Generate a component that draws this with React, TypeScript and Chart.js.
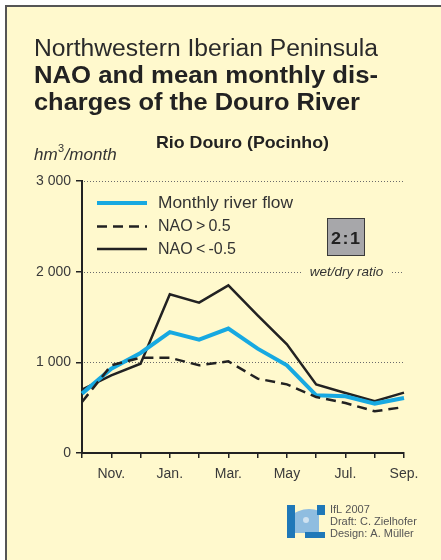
import React, { useEffect, useRef } from "react";
import { Chart, registerables } from "chart.js";

Chart.register(...registerables);

const months = ["Oct.", "Nov.", "Dec.", "Jan.", "Feb.", "Mar.", "Apr.", "May", "Jun.", "Jul.", "Aug.", "Sep."];
const shownMonths = ["Nov.", "Jan.", "Mar.", "May", "Jul.", "Sep."];
const monthlyFlow = [655, 930, 1103, 1334, 1250, 1372, 1151, 967, 636, 625, 545, 606];
const naoPositive = [563, 967, 1051, 1051, 967, 1011, 820, 757, 617, 551, 460, 507];
const naoNegative = [699, 857, 985, 1750, 1658, 1849, 1518, 1198, 757, 662, 570, 666];
const yTickValues = [0, 1000, 2000, 3000];
const seriesNames = ["Monthly river flow", "NAO\u2009>\u20090.5", "NAO\u2009<\u2009-0.5"];
const wetDryRatio = "2:1";

const FONT = '"Liberation Sans", Arial, Helvetica, sans-serif';
const BLUE = "#17a9e1";
const INK = "#222222";

function fitText(ctx: CanvasRenderingContext2D, text: string, x: number, y: number, w: number) {
  const m = ctx.measureText(text).width;
  const s = w / m;
  ctx.save();
  ctx.translate(x, y);
  ctx.scale(s, 1);
  ctx.textAlign = "left";
  ctx.fillText(text, 0, 0);
  ctx.restore();
}

const decorPlugin = {
  id: "decor",
  beforeDraw(chart: any) {
    const ctx: CanvasRenderingContext2D = chart.ctx;
    const W = chart.width;
    const H = chart.height;
    ctx.save();
    ctx.fillStyle = "#ffffff";
    ctx.fillRect(0, 0, W, H);
    ctx.fillStyle = "#fff9cd";
    ctx.fillRect(7, 7, W - 7, H - 7);
    ctx.strokeStyle = "#555555";
    ctx.lineWidth = 2;
    ctx.beginPath();
    ctx.moveTo(6, H);
    ctx.lineTo(6, 6);
    ctx.lineTo(W, 6);
    ctx.stroke();

    // titles
    ctx.textBaseline = "alphabetic";
    ctx.fillStyle = "#2a2a2a";
    ctx.font = `23.5px ${FONT}`;
    fitText(ctx, "Northwestern Iberian Peninsula", 34, 56, 344);
    ctx.fillStyle = INK;
    ctx.font = `bold 23px ${FONT}`;
    fitText(ctx, "NAO and mean monthly dis-", 34, 83, 344);
    fitText(ctx, "charges of the Douro River", 34, 110, 326);
    ctx.font = `bold 17px ${FONT}`;
    fitText(ctx, "Rio Douro (Pocinho)", 156, 148, 173);

    // unit label
    ctx.fillStyle = "#333333";
    ctx.font = `italic 17px ${FONT}`;
    ctx.textAlign = "left";
    ctx.fillText("hm", 34, 160);
    const hmW = ctx.measureText("hm").width;
    ctx.font = `11px ${FONT}`;
    ctx.fillText("3", 34 + hmW + 0.5, 152);
    ctx.font = `italic 17px ${FONT}`;
    ctx.fillText("/month", 34 + hmW + 7, 160);

    // dotted grid lines
    const ys = chart.scales.y;
    const area = chart.chartArea;
    ctx.strokeStyle = "#6b6b6b";
    ctx.lineWidth = 1;
    ctx.setLineDash([1, 2]);
    for (const v of yTickValues) {
      if (v === 0) continue;
      const y = Math.round(ys.getPixelForValue(v)) + 0.5;
      ctx.beginPath();
      if (v === 2000) {
        ctx.moveTo(area.left + 2, y);
        ctx.lineTo(302, y);
        ctx.moveTo(392, y);
        ctx.lineTo(area.right, y);
      } else {
        ctx.moveTo(area.left + 2, y);
        ctx.lineTo(area.right, y);
      }
      ctx.stroke();
    }
    ctx.setLineDash([]);
    const y2000 = ys.getPixelForValue(2000);
    ctx.fillStyle = "#333333";
    ctx.font = `italic 13.5px ${FONT}`;
    ctx.textAlign = "center";
    ctx.textBaseline = "middle";
    ctx.fillText("wet/dry ratio", 346.5, y2000 + 1);

    // ratio box
    ctx.fillStyle = "#a7a7aa";
    ctx.fillRect(327, 218, 38, 38);
    ctx.strokeStyle = "#3a3a3a";
    ctx.lineWidth = 1;
    ctx.strokeRect(327.5, 218.5, 37, 37);
    ctx.fillStyle = INK;
    ctx.font = `bold 17px ${FONT}`;
    ctx.textBaseline = "alphabetic";
    ctx.textAlign = "left";
    fitText(ctx, wetDryRatio.split("").join("\u200a"), 331, 243.5, 29);

    // legend
    ctx.lineCap = "butt";
    ctx.strokeStyle = BLUE;
    ctx.lineWidth = 4;
    ctx.beginPath();
    ctx.moveTo(97, 203);
    ctx.lineTo(147, 203);
    ctx.stroke();
    ctx.strokeStyle = INK;
    ctx.lineWidth = 2.5;
    ctx.setLineDash([10, 6]);
    ctx.beginPath();
    ctx.moveTo(97, 226.5);
    ctx.lineTo(147, 226.5);
    ctx.stroke();
    ctx.setLineDash([]);
    ctx.beginPath();
    ctx.moveTo(97, 249);
    ctx.lineTo(147, 249);
    ctx.stroke();
    ctx.fillStyle = "#333333";
    ctx.font = `16px ${FONT}`;
    ctx.textBaseline = "middle";
    fitText(ctx, seriesNames[0], 158, 204, 135);
    ctx.fillText(seriesNames[1], 158, 227);
    ctx.fillText(seriesNames[2], 158, 250);

    // logo
    ctx.save();
    ctx.beginPath();
    ctx.rect(295, 506, 24, 27);
    ctx.clip();
    ctx.fillStyle = "#8fbde0";
    ctx.beginPath();
    ctx.arc(309, 537, 28, 0, Math.PI * 2);
    ctx.fill();
    ctx.fillStyle = "#cfe2f0";
    ctx.beginPath();
    ctx.arc(306, 520, 3, 0, Math.PI * 2);
    ctx.fill();
    ctx.restore();
    ctx.fillStyle = "#1f78b8";
    ctx.fillRect(287, 505, 8, 33);
    ctx.fillRect(317, 505, 8, 10);
    ctx.fillRect(305, 532, 20, 6);

    ctx.fillStyle = "#555555";
    ctx.font = `11px ${FONT}`;
    ctx.textAlign = "left";
    ctx.textBaseline = "alphabetic";
    ctx.fillText("IfL 2007", 330, 513);
    ctx.fillText("Draft: C. Zielhofer", 330, 525);
    ctx.fillText("Design: A. Müller", 330, 537);
    ctx.restore();
  },
};

export default function App() {
  const ref = useRef<HTMLCanvasElement | null>(null);

  useEffect(() => {
    if (!ref.current) return;
    const chart = new Chart(ref.current, {
      type: "line",
      data: {
        labels: months,
        datasets: [
          {
            label: seriesNames[1],
            data: naoPositive,
            borderColor: INK,
            borderWidth: 2.5,
            borderDash: [10, 6],
            pointRadius: 0,
            tension: 0,
            fill: false,
          },
          {
            label: seriesNames[0],
            data: monthlyFlow,
            borderColor: BLUE,
            borderWidth: 4,
            pointRadius: 0,
            tension: 0,
            fill: false,
          },
          {
            label: seriesNames[2],
            data: naoNegative,
            borderColor: INK,
            borderWidth: 2.5,
            pointRadius: 0,
            tension: 0,
            fill: false,
            borderJoinStyle: "miter",
          },
        ],
      },
      options: {
        responsive: false,
        animation: false,
        events: [],
        layout: { padding: { left: 0, right: 37, top: 181, bottom: 67 } },
        plugins: {
          legend: { display: false },
          title: { display: false },
          tooltip: { enabled: false },
        },
        scales: {
          x: {
            type: "category",
            offset: false,
            grid: {
              drawOnChartArea: false,
              drawTicks: true,
              tickLength: 5,
              color: INK,
              lineWidth: 1.5,
            },
            border: { color: INK, width: 2 },
            ticks: {
              autoSkip: false,
              maxRotation: 0,
              padding: 8,
              color: "#3a3a3a",
              font: { family: FONT, size: 14 },
              callback: (_v: any, i: number) => (shownMonths.includes(months[i]) ? months[i] : ""),
            },
            afterFit: (s: any) => {
              s.height = 40;
            },
          },
          y: {
            min: 0,
            max: 3000,
            afterBuildTicks: (s: any) => {
              s.ticks = yTickValues.map((v) => ({ value: v }));
            },
            grid: {
              drawOnChartArea: false,
              drawTicks: true,
              tickLength: 6,
              color: INK,
              lineWidth: 1.5,
            },
            border: { color: INK, width: 2 },
            ticks: {
              padding: 5,
              color: "#3a3a3a",
              font: { family: FONT, size: 14 },
              callback: (v: any) => (Number(v) === 0 ? "0" : `${Math.floor(Number(v) / 1000)} 000`),
            },
            afterFit: (s: any) => {
              s.width = 82;
            },
          },
        },
      },
      plugins: [decorPlugin],
    });
    return () => chart.destroy();
  }, []);

  return (
    <div style={{ position: "absolute", left: 0, top: 0, width: 441, height: 560 }}>
      <canvas ref={ref} width={441} height={560} style={{ width: 441, height: 560, display: "block" }} />
    </div>
  );
}
